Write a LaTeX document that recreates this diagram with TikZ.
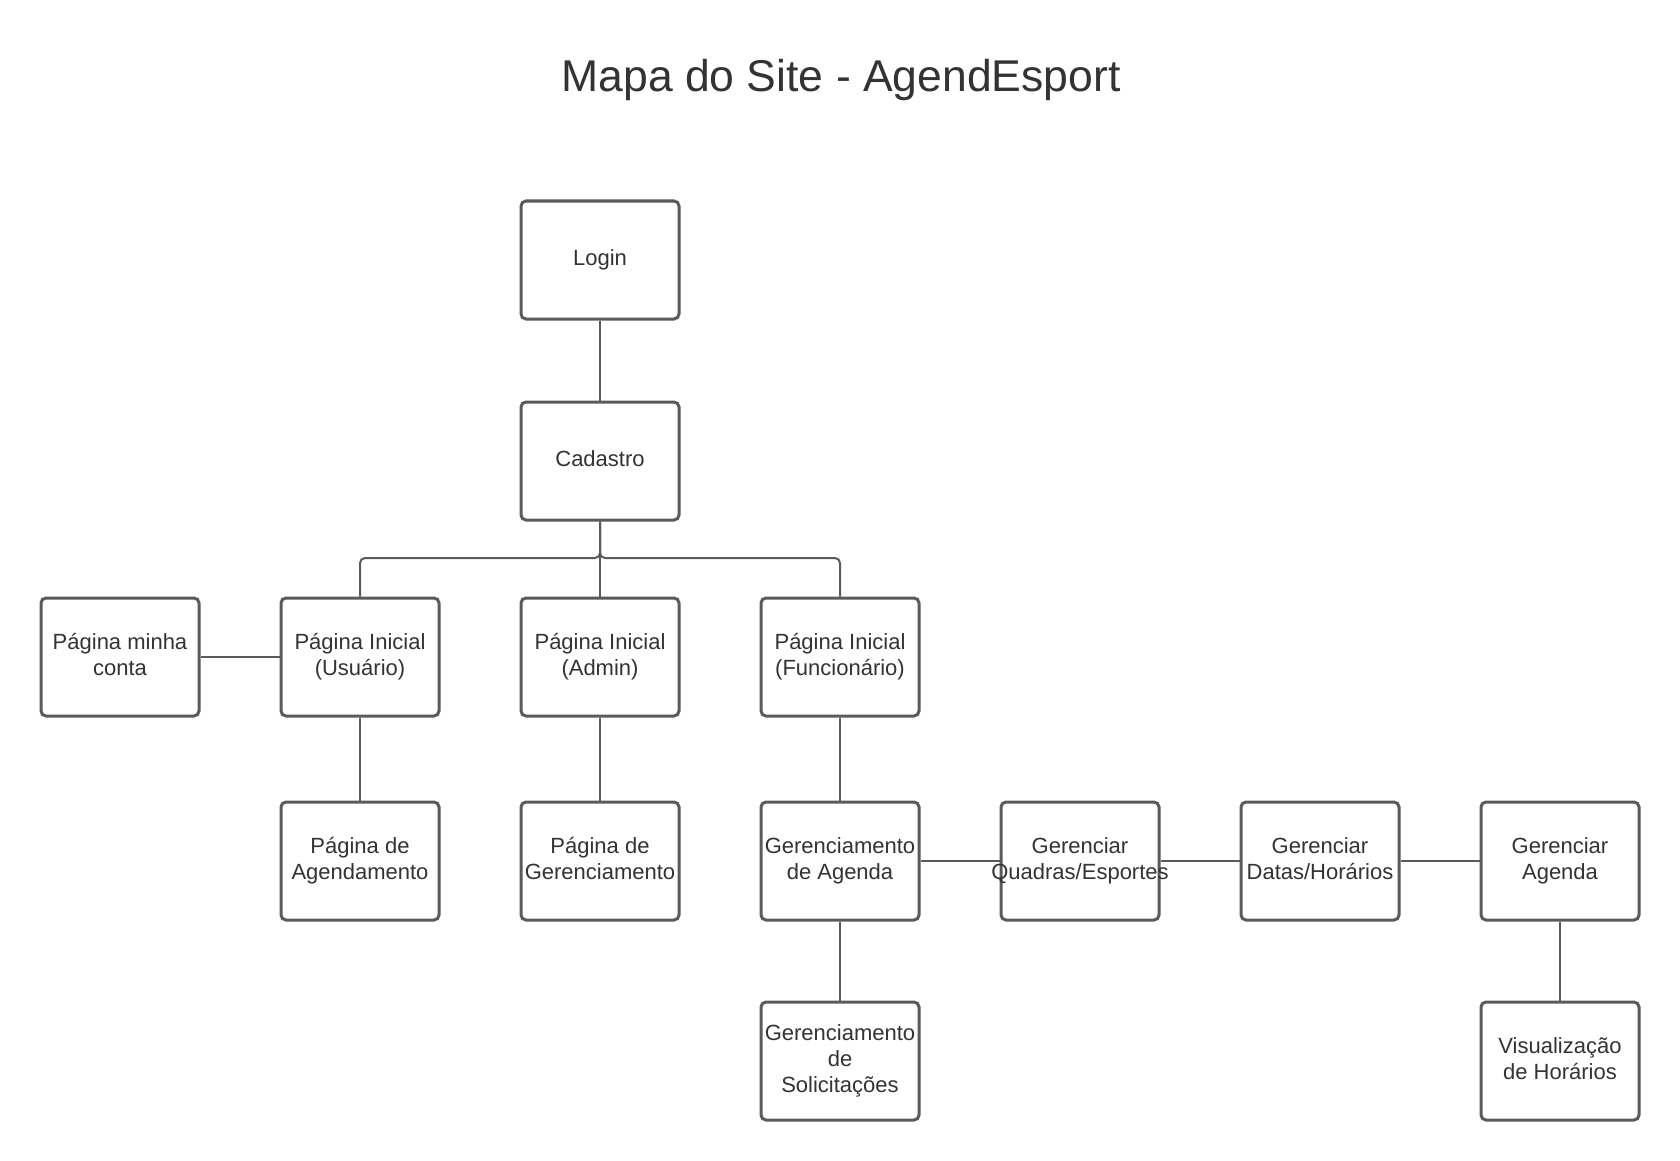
\documentclass[tikz,border=0pt]{standalone}
\usepackage{fontspec}
\setmainfont{Liberation Sans}
\definecolor{txt}{HTML}{333333}
\definecolor{edge}{HTML}{5A5A5A}
\newcommand\fxline[1]{\makebox[150pt]{#1\strut}}
\begin{document}
\begin{tikzpicture}[x=1pt,y=-1pt,
  pagebox/.style={draw=edge, line width=3pt, rounded corners=5pt, fill=white,
    minimum width=158pt, minimum height=118pt, inner sep=0pt,
    align=center, text=txt, font=\fontsize{22}{26}\selectfont},
  conn/.style={draw=edge, line width=2pt}]
\useasboundingbox (0,0) rectangle (1680,1161);
\fill[white] (0,0) rectangle (1680,1161);
\node[text=txt, font=\fontsize{44.5}{52}\selectfont] (title) at (841,80) {Mapa do Site - AgendEsport};

\node[pagebox] (login) at (600,260) {\fxline{Login}};
\node[pagebox] (cad) at (600,461) {\fxline{Cadastro}};
\node[pagebox] (conta) at (120,657) {\fxline{Página minha}\\\fxline{conta}};
\node[pagebox] (usu) at (360,657) {\fxline{Página Inicial}\\\fxline{(Usuário)}};
\node[pagebox] (adm) at (600,657) {\fxline{Página Inicial}\\\fxline{(Admin)}};
\node[pagebox] (fun) at (840,657) {\fxline{Página Inicial}\\\fxline{(Funcionário)}};
\node[pagebox] (agend) at (360,861) {\fxline{Página de}\\\fxline{Agendamento}};
\node[pagebox] (geren) at (600,861) {\fxline{Página de}\\\fxline{Gerenciamento}};
\node[pagebox] (gag) at (840,861) {\fxline{Gerenciamento}\\\fxline{de Agenda}};
\node[pagebox] (quad) at (1080,861) {\fxline{Gerenciar}\\\fxline{Quadras/Esportes}};
\node[pagebox] (datas) at (1320,861) {\fxline{Gerenciar}\\\fxline{Datas/Horários}};
\node[pagebox] (gerag) at (1560,861) {\fxline{Gerenciar}\\\fxline{Agenda}};
\node[pagebox] (solic) at (840,1061) {\fxline{Gerenciamento}\\\fxline{de}\\\fxline{Solicitações}};
\node[pagebox] (visu) at (1560,1061) {\fxline{Visualização}\\\fxline{de Horários}};

\draw[conn] (login.south) -- (cad.north);
\draw[conn, rounded corners=5pt] (cad.south) -- (600,558) -| (usu.north);
\draw[conn, rounded corners=5pt] (cad.south) -- (600,558) -| (fun.north);
\draw[conn] (cad.south) -- (adm.north);
\draw[conn] (conta.east) -- (usu.west);
\draw[conn] (usu.south) -- (agend.north);
\draw[conn] (adm.south) -- (geren.north);
\draw[conn] (fun.south) -- (gag.north);
\draw[conn] (gag.east) -- (quad.west);
\draw[conn] (quad.east) -- (datas.west);
\draw[conn] (datas.east) -- (gerag.west);
\draw[conn] (gerag.south) -- (visu.north);
\draw[conn] (gag.south) -- (solic.north);
\end{tikzpicture}
\end{document}
